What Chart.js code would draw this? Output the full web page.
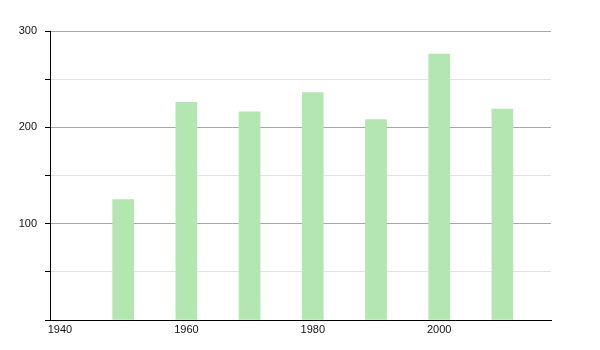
<!DOCTYPE html>
<html>
<head>
<meta charset="utf-8">
<script src="https://cdn.jsdelivr.net/npm/chart.js@4/dist/chart.umd.min.js"></script>
<style>
html,body{margin:0;padding:0;background:#fff;}
#wrap{width:600px;height:350px;position:relative;}
</style>
</head>
<body>
<div id="wrap"><canvas id="c" width="600" height="350"></canvas></div>
<script>
const years = [1950, 1960, 1970, 1980, 1990, 2000, 2010];
const values = [125, 226, 216, 236, 208, 276, 219];
const xTickYears = [1940, 1960, 1980, 2000];
const yLabelValues = [100, 200, 300];

Chart.defaults.font.family = '"Liberation Sans", Arial, sans-serif';
Chart.defaults.font.size = 11;
Chart.defaults.color = '#111';

new Chart(document.getElementById('c'), {
  type: 'bar',
  data: {
    datasets: [{
      data: years.map((y, i) => ({ x: y, y: values[i] })),
      backgroundColor: '#b3e6b1',
      borderWidth: 0,
      barThickness: 21
    }]
  },
  options: {
    responsive: false,
    animation: false,
    events: [],
    layout: { padding: { top: 31, right: 49, left: 0, bottom: 0 } },
    plugins: { legend: { display: false }, tooltip: { enabled: false } },
    scales: {
      x: {
        type: 'linear',
        min: 1938.42,
        max: 2017.69,
        offset: false,
        afterBuildTicks: (s) => { s.ticks = xTickYears.map(v => ({ value: v })); },
        afterFit: (s) => { s.height = 30; },
        grid: { display: false, drawTicks: false },
        border: { display: true, color: '#000', width: 1 },
        ticks: { autoSkip: false, maxRotation: 0, padding: 3, callback: (v) => String(v) }
      },
      y: {
        min: 0,
        max: 300,
        afterFit: (s) => { s.width = 50; },
        ticks: {
          stepSize: 50,
          padding: 8,
          callback: (v) => yLabelValues.includes(v) ? String(v) : ''
        },
        grid: {
          color: (ctx) => (ctx.tick && ctx.tick.value % 100 === 0) ? '#a8a8a8' : '#e2e2e2',
          tickColor: '#000',
          tickLength: 5,
          lineWidth: 1
        },
        border: { display: true, color: '#000', width: 1 }
      }
    }
  }
});
</script>
</body>
</html>
